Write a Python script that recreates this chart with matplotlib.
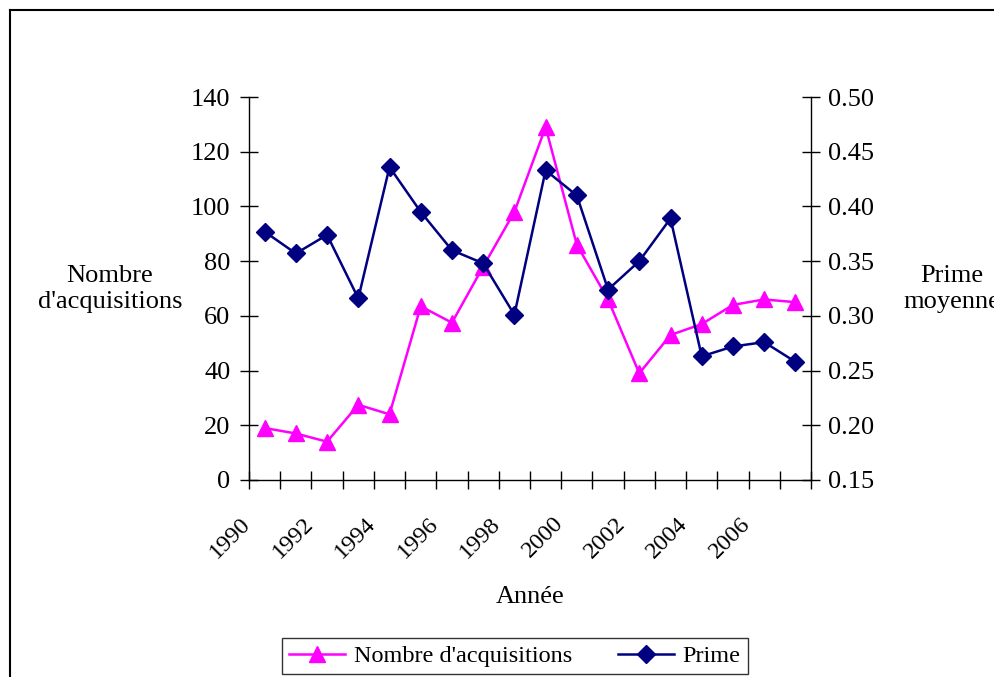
import matplotlib.pyplot as plt
from matplotlib.lines import Line2D

# Data
years = list(range(1990, 2008))
acquisitions = [19, 17, 14, 27.5, 24, 63.5, 57.5, 78, 98, 129, 86, 66, 39, 53, 57, 64, 66, 65]
prime = [0.377, 0.357, 0.374, 0.316, 0.436, 0.395, 0.360, 0.348, 0.301, 0.433,
         0.410, 0.324, 0.350, 0.389, 0.263, 0.272, 0.276, 0.258]
year_labels = [str(y) for y in years[::2][:9]]

plt.rcParams['font.family'] = ['Liberation Serif', 'DejaVu Serif']
fs = 19
fs_small = 17.5

fig = plt.figure(figsize=(9.94, 6.77), dpi=100)
ax = fig.add_axes([249 / 994, 1 - 480 / 677, 562 / 994, 383 / 677])
ax2 = ax.twinx()

# Chart area border (only left and top visible)
fig.add_artist(Line2D([10 / 994, 10 / 994], [0, 1 - 10 / 677], color='black', lw=1.5,
                      transform=fig.transFigure))
fig.add_artist(Line2D([10 / 994, 993 / 994], [1 - 10 / 677, 1 - 10 / 677], color='black', lw=1.5,
                      transform=fig.transFigure))

x = [i + 0.5 for i in range(len(years))]
l1, = ax.plot(x, acquisitions, color='#FF00FF', lw=1.8, marker='^', ms=11.5,
              label="Nombre d'acquisitions", clip_on=False, zorder=3)
l2, = ax2.plot(x, prime, color='#000080', lw=1.8, marker='D', ms=9.5,
               label='Prime', clip_on=False, zorder=3)

# category boundaries carry the tick marks
ax.set_xticks(range(0, len(years) + 1))
ax.set_xticklabels([])
ax.set_xlim(0, len(years))

# year labels every second category, a bit left of the category centre
for i, lab in enumerate(year_labels):
    ax.annotate(lab, xy=(0.5 + 2 * i, 0), xycoords=('data', 'axes fraction'),
                xytext=(-17.7, -23.8), textcoords='offset points',
                rotation=45, ha='right', va='top', rotation_mode='anchor',
                fontsize=fs_small, annotation_clip=False)

ax.set_ylim(0, 140)
ax2.set_ylim(0.15, 0.50)
ax.set_yticks(range(0, 141, 20))
ax2.set_yticks([0.15, 0.20, 0.25, 0.30, 0.35, 0.40, 0.45, 0.50])
ax2.set_yticklabels([f'{v:.2f}' for v in ax2.get_yticks()])

ax.tick_params(axis='x', which='major', direction='inout', length=12.5, width=1)
ax.tick_params(axis='y', direction='inout', length=12.5, width=1, labelsize=fs, pad=7)
ax2.tick_params(axis='y', direction='inout', length=12.5, width=1, labelsize=fs, pad=6)

for a in (ax, ax2):
    a.spines['top'].set_visible(False)
    for s in a.spines.values():
        s.set_linewidth(1)
ax.spines['right'].set_visible(False)
ax2.spines['left'].set_visible(False)
ax2.spines['bottom'].set_visible(False)

fig.text(110 / 994, 1 - 289 / 677, "Nombre\nd'acquisitions", ha='center', va='center',
         fontsize=fs, linespacing=1.2)
fig.text(952 / 994, 1 - 289 / 677, "Prime\nmoyenne", ha='center', va='center',
         fontsize=fs, linespacing=1.2)
fig.text(530 / 994, 1 - 597 / 677, 'Année', ha='center', va='center', fontsize=fs)

leg = fig.legend(handles=[l1, l2], loc='center', bbox_to_anchor=(515 / 994, 1 - 656 / 677),
                 ncol=2, fontsize=fs_small, frameon=True, fancybox=False, edgecolor='black',
                 handlelength=2.3, columnspacing=1.9, borderpad=0.3, handletextpad=0.35,
                 borderaxespad=0)
leg.get_frame().set_linewidth(1)

fig.savefig('out.png', dpi=100)
